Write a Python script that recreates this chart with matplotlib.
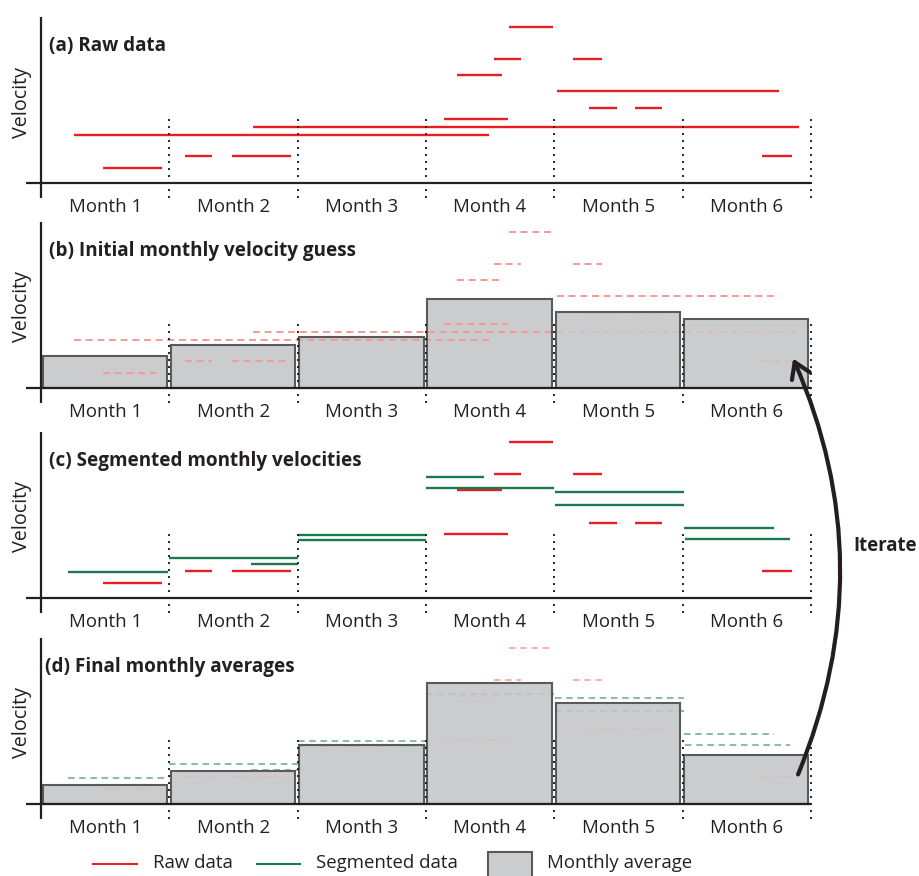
import matplotlib
matplotlib.use('Agg')
import matplotlib.pyplot as plt
from matplotlib.patches import FancyArrowPatch, Rectangle
from matplotlib.lines import Line2D

plt.rcParams['font.family'] = ['Open Sans', 'DejaVu Sans']

# month labels and panel titles
months = ['Month 1', 'Month 2', 'Month 3', 'Month 4', 'Month 5', 'Month 6']
titles = ['(a) Raw data', '(b) Initial monthly velocity guess',
          '(c) Segmented monthly velocities', '(d) Final monthly averages']

# raw velocity measurements: start month, end month, velocity
raw_start = [0.26, 1.65, 0.48, 1.12, 1.49, 3.14, 3.65, 3.53, 4.15, 3.24, 4.02, 4.27, 4.63, 5.62]
raw_end = [3.49, 5.91, 0.94, 1.33, 1.95, 3.64, 3.99, 3.74, 4.37, 3.59, 5.75, 4.49, 4.84, 5.85]
raw_vel = [4.8, 5.6, 1.5, 2.73, 2.73, 6.37, 15.6, 12.4, 12.4, 10.8, 9.2, 7.53, 7.53, 2.73]

# multi-month measurements split at month boundaries
seg_start = [0.21, 1.0, 1.64, 2.0, 2.0, 3.0, 3.0, 4.01, 4.01, 5.01, 5.02]
seg_end = [0.99, 2.0, 2.0, 3.0, 3.0, 3.45, 4.0, 5.01, 5.01, 5.71, 5.84]
seg_vel = [2.6, 4.0, 3.37, 6.33, 5.83, 12.1, 11.03, 10.63, 9.33, 7.03, 5.93]

# monthly averages
guess_avg = [3.16, 4.33, 5.13, 8.9, 7.56, 6.86]
final_avg = [1.9, 3.33, 5.87, 12.1, 10.07, 4.9]

INK = '#231f20'
RED = '#ec1c24'
GREEN = '#1b7a4b'
PINK = '#f49a9a'
LGREEN = '#7db89d'
BARC = '#cbcccd'
BARE = '#5a5a5a'

W, H = 919, 876
PX = 10.0      # pixels per velocity unit
MPX = 128.3    # pixels per month
X0 = -41 / MPX
X1 = (W - 41) / MPX

fig = plt.figure(figsize=(W / 100, H / 100), dpi=100)

# one-month-only measurements (the ones that stay red after segmenting)
single = [int(s) == int(e - 1e-9) for s, e in zip(raw_start, raw_end)]


def panel(top, bottom, axis, title, tx=0.06):
    ax = fig.add_axes([0, 1 - bottom / H, 1, (bottom - top) / H])
    ax.set_xlim(X0, X1)
    ax.set_ylim((axis - bottom) / PX, (axis - top) / PX)
    ax.axis('off')
    ax.plot([-0.12, 6.0], [0, 0], color=INK, lw=1.6, zorder=6, solid_capstyle='butt')
    ax.plot([0, 0], [-1.5, 16.6], color=INK, lw=1.6, zorder=6, solid_capstyle='butt')
    for i in range(1, 7):
        ax.plot([i, i], [-1.5, 6.5], color=INK, lw=1.4, zorder=7,
                linestyle=(0, (1, 2.6)), dash_capstyle='butt')
    for i, m in enumerate(months):
        ax.text(i + 0.5, -2.4, m, ha='center', va='center', fontsize=13.4, color=INK)
    ax.text(tx, 13.7, title, ha='left', va='center', fontsize=13.6,
            fontweight='bold', color=INK)
    ax.text(-0.148, 8.1, 'Velocity', rotation=90, ha='center', va='center',
            fontsize=14.2, color=INK)
    return ax


def bars(ax, vals, over=()):
    xs = [i + 0.012 for i in range(len(vals))]
    ax.bar(xs, vals, width=0.97, align='edge', color=BARC, edgecolor='none', zorder=1)
    for i in over:
        ax.bar(xs[i], vals[i], width=0.97, align='edge', color=BARC, edgecolor='none',
               alpha=0.72, zorder=3)
    ax.bar(xs, vals, width=0.97, align='edge', color='none', edgecolor=BARE,
           linewidth=1.5, zorder=4)


# (a) raw data
ax = panel(0, 222, 183, titles[0])
ax.hlines(raw_vel, raw_start, raw_end, color=RED, lw=1.7, zorder=2)

# (b) initial guess
ax = panel(222, 430, 388, titles[1])
bars(ax, guess_avg, over=(4, 5))
ax.hlines(raw_vel, raw_start, raw_end, color=PINK, lw=1.4, zorder=2,
          linestyle=(0, (3.6, 2.4)))

# (c) segmented
ax = panel(430, 638, 598, titles[2])
sv = [v for v, k in zip(raw_vel, single) if k]
ss = [s for s, k in zip(raw_start, single) if k]
se = [e for e, k in zip(raw_end, single) if k]
ax.hlines(sv, ss, se, color=RED, lw=1.7, zorder=2)
ax.hlines(seg_vel, seg_start, seg_end, color=GREEN, lw=1.7, zorder=2)

# (d) final averages
ax = panel(638, 846, 804, titles[3], tx=0.03)
bars(ax, final_avg, over=range(6))
ax.hlines(sv, ss, se, color=PINK, lw=1.3, zorder=2, alpha=0.85,
          linestyle=(0, (3.6, 2.6)))
ax.hlines(seg_vel, seg_start, seg_end, color=LGREEN, lw=1.3, zorder=2,
          linestyle=(0, (3.6, 2.6)))

# iterate arrow
arrow = FancyArrowPatch((797 / W, 1 - 777 / H), (792 / W, 1 - 356 / H),
                        transform=fig.transFigure, connectionstyle='arc3,rad=0.215',
                        arrowstyle='->,head_length=0.55,head_width=0.35',
                        mutation_scale=20, lw=3, color=INK, zorder=10)
fig.patches.append(arrow)
fig.text(885 / W, 1 - 546 / H, 'Iterate', ha='center', va='center', fontsize=13.4,
         fontweight='bold', color=INK)

# legend
ly = 1 - 863.5 / H
fig.add_artist(Line2D([93 / W, 137 / W], [ly, ly], color=RED, lw=1.5))
fig.text(153 / W, ly, 'Raw data', ha='left', va='center', fontsize=13.4, color=INK)
fig.add_artist(Line2D([257 / W, 300 / W], [ly, ly], color=GREEN, lw=1.5))
fig.text(316 / W, ly, 'Segmented data', ha='left', va='center', fontsize=13.4, color=INK)
fig.patches.append(Rectangle((488 / W, 1 - 880 / H), 44 / W, 28 / H, transform=fig.transFigure,
                             facecolor=BARC, edgecolor=BARE, lw=1.5))
fig.text(547 / W, ly, 'Monthly average', ha='left', va='center', fontsize=13.4, color=INK)

fig.savefig('out.png', dpi=100)
